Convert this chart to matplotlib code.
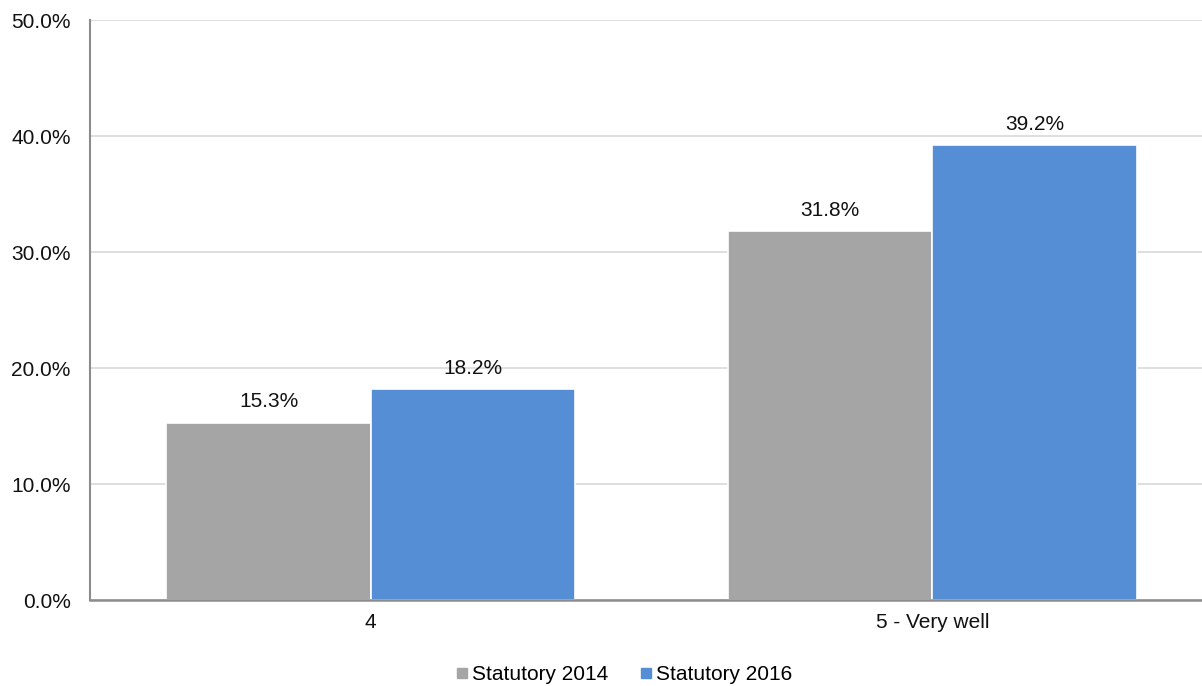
import matplotlib
matplotlib.use("Agg")
import matplotlib.pyplot as plt
from matplotlib.ticker import FuncFormatter, MultipleLocator
from matplotlib.lines import Line2D
import numpy as np

categories = ["4", "5 - Very well"]
series_names = ["Statutory 2014", "Statutory 2016"]
values_2014 = [15.3, 31.8]
values_2016 = [18.2, 39.2]
colors = ["#A5A5A5", "#558ED5"]

plt.rcParams["font.family"] = ["Liberation Sans", "DejaVu Sans"]
FS = 15

fig = plt.figure(figsize=(12.02, 6.86), dpi=100)
ax = fig.add_axes([90 / 1202, 1 - 600 / 686, (1213 - 90) / 1202, (600 - 20) / 686])

x = np.arange(len(categories))
width = 0.364
for i, (vals, name, col) in enumerate(zip([values_2014, values_2016], series_names, colors)):
    pos = x + (i - 0.5) * width
    bars = ax.bar(pos, vals, width, color=col, edgecolor="white", linewidth=1.2,
                  label=name, zorder=3)
    for b, v in zip(bars, vals):
        ax.annotate(f"{v:.1f}%", (b.get_x() + b.get_width() / 2, v),
                    xytext=(0, 8), textcoords="offset points",
                    ha="center", va="bottom", fontsize=FS, color="#111111")

ax.set_xlim(-0.5, len(categories) - 0.5)
ax.set_ylim(0, 50)
ax.yaxis.set_major_locator(MultipleLocator(10))
ax.yaxis.set_major_formatter(FuncFormatter(lambda v, p: f"{v:.1f}%"))
ax.set_xticks(x)
ax.set_xticklabels(categories)
ax.tick_params(axis="both", length=0, labelsize=FS, colors="#111111")
ax.tick_params(axis="y", pad=14)
ax.tick_params(axis="x", pad=9)
ax.grid(axis="y", color="#D9D9D9", linewidth=1.2, zorder=0)
for s in ["top", "right"]:
    ax.spines[s].set_visible(False)
ax.spines["left"].set_color("#8C8C8C")
ax.spines["left"].set_linewidth(1.5)
ax.spines["bottom"].set_color("#8C8C8C")
ax.spines["bottom"].set_linewidth(1.8)
ax.spines["bottom"].set_zorder(4)

handles = [Line2D([0], [0], marker="s", linestyle="none", markersize=6.5,
                  markerfacecolor=c, markeredgecolor=c) for c in colors]
fig.legend(handles, series_names, loc="center", bbox_to_anchor=(622 / 1202, 1 - 675 / 686),
           ncol=2, frameon=False, fontsize=FS, handletextpad=0.0, columnspacing=1.3,
           handlelength=1.0)

fig.savefig("out.png", dpi=100)
